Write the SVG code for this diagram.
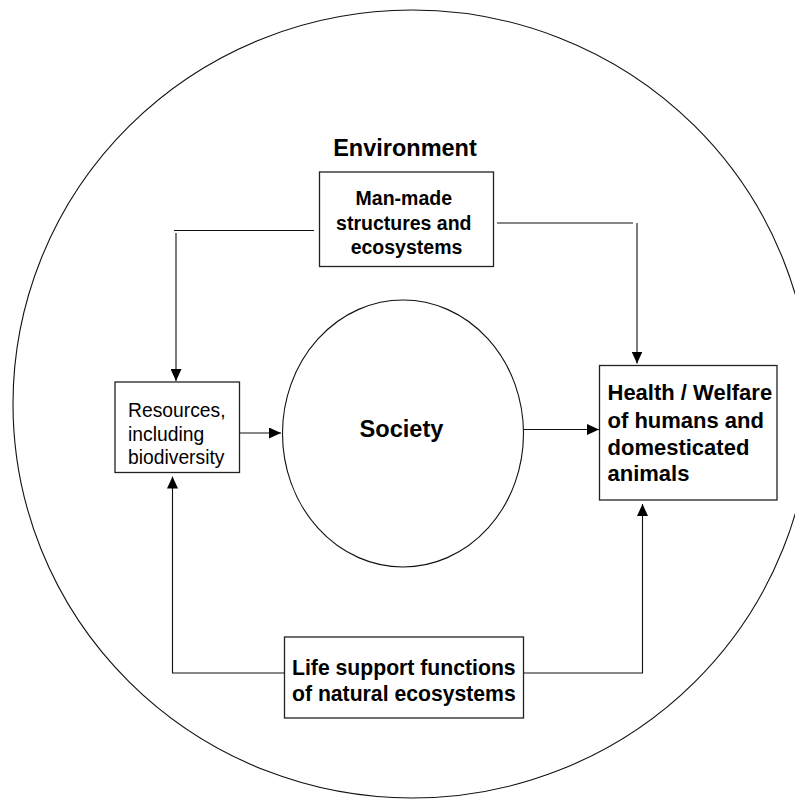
<svg xmlns="http://www.w3.org/2000/svg" width="795" height="801" viewBox="0 0 795 801">
  <style>
    .outline { fill: none; stroke: #111; stroke-width: 1.1; }
    .box { fill: #fff; stroke: #222; stroke-width: 1.3; }
    .conn { fill: none; stroke: #111; stroke-width: 1.1; }
    .t { font-family: "Liberation Sans", Arial, Helvetica, sans-serif; fill: #000; }
    .b { font-weight: bold; }
  </style>
  <defs>
    <marker id="arrow" markerUnits="userSpaceOnUse" markerWidth="12" markerHeight="11" refX="12" refY="5.5" orient="auto">
      <path d="M0,0 L12,5.5 L0,11 z" fill="#000"/>
    </marker>
  </defs>
  <rect width="795" height="801" fill="#fff"/>

  <g id="environment">
    <ellipse class="outline" cx="412" cy="404" rx="399" ry="394"/>
    <text class="t b" x="405" y="156" font-size="23.5" text-anchor="middle">Environment</text>
  </g>

  <g id="connectors">
    <path class="conn" d="M314,230.5 H174 M176,233 V381" marker-end="url(#arrow)"/>
    <path class="conn" d="M497,223 H633 M637,223 V363.5" marker-end="url(#arrow)"/>
    <path class="conn" d="M239.5,433 H281" marker-end="url(#arrow)"/>
    <path class="conn" d="M523.5,429.5 H599" marker-end="url(#arrow)"/>
    <path class="conn" d="M284.5,673 H172.5 V476.5" marker-end="url(#arrow)"/>
    <path class="conn" d="M523.5,673 H642.5 V504" marker-end="url(#arrow)"/>
  </g>

  <g id="man-made">
    <rect class="box" x="319.5" y="172" width="174" height="94.5"/>
    <text class="t b" font-size="19.5" text-anchor="middle">
      <tspan x="406.5" y="205">Man-made</tspan>
      <tspan x="406.5" y="229.5">structures and</tspan>
      <tspan x="406.5" y="254">ecosystems</tspan>
    </text>
  </g>

  <g id="resources">
    <rect class="box" x="115" y="382" width="124.5" height="90.5"/>
    <text class="t" font-size="19.3">
      <tspan x="128" y="416.5">Resources,</tspan>
      <tspan x="128" y="440.5">including</tspan>
      <tspan x="128" y="464">biodiversity</tspan>
    </text>
  </g>

  <g id="society">
    <ellipse class="outline" cx="403" cy="433.5" rx="120.5" ry="133.5"/>
    <text class="t b" x="401.5" y="436.5" font-size="23.6" text-anchor="middle">Society</text>
  </g>

  <g id="health">
    <rect class="box" x="599.5" y="365.5" width="177.5" height="134.5"/>
    <text class="t b" font-size="22">
      <tspan x="607.5" y="400">Health / Welfare</tspan>
      <tspan x="607.5" y="427.5">of humans and</tspan>
      <tspan x="607.5" y="454.5">domesticated</tspan>
      <tspan x="607.5" y="481">animals</tspan>
    </text>
  </g>

  <g id="life-support">
    <rect class="box" x="284.5" y="637" width="239" height="81"/>
    <text class="t b" font-size="21.2">
      <tspan x="292" y="675">Life support functions</tspan>
      <tspan x="292" y="700.5">of natural ecosystems</tspan>
    </text>
  </g>
</svg>
